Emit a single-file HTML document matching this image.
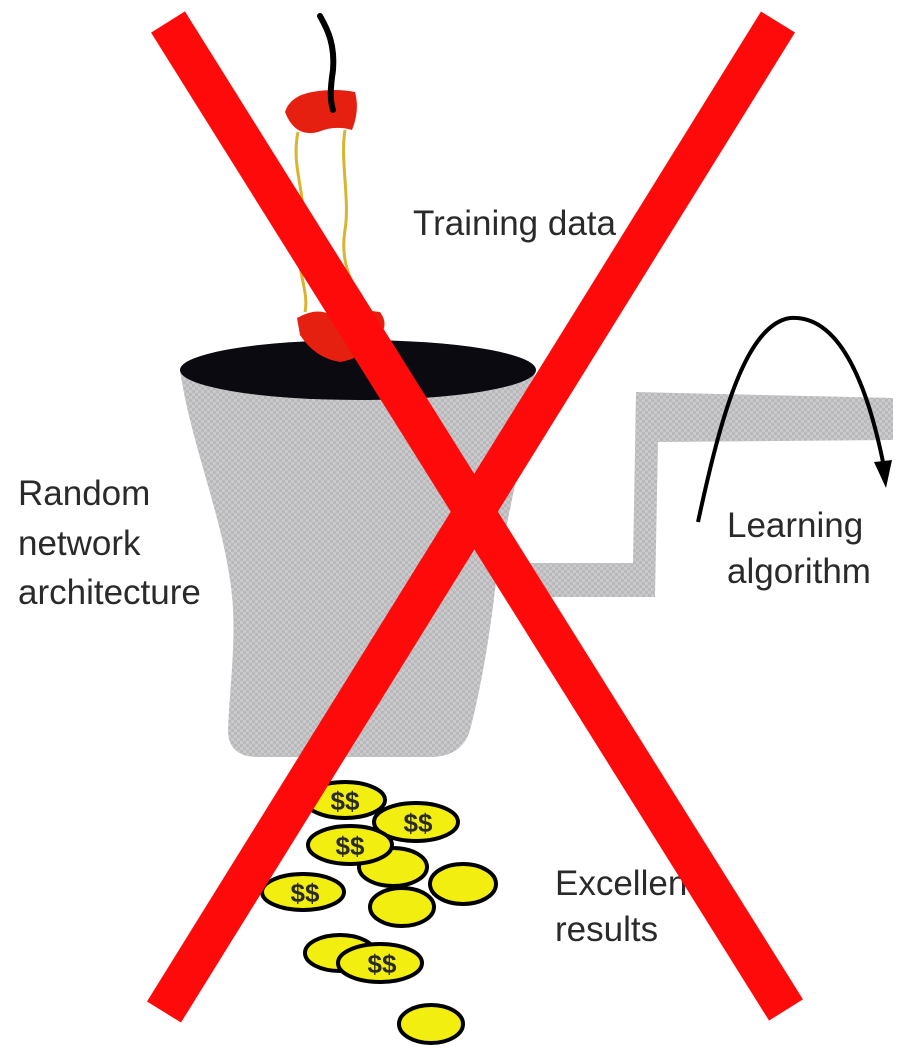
<!DOCTYPE html>
<html><head><meta charset="utf-8"><style>
html,body{margin:0;padding:0;background:#fff;}
svg{display:block;}
text{font-family:"Liberation Sans",sans-serif;fill:#2a2a2a;font-size:35px;}
</style></head><body>
<svg width="915" height="1055" viewBox="0 0 915 1055" xmlns="http://www.w3.org/2000/svg">
<defs>
<pattern id="dots" width="6" height="6" patternUnits="userSpaceOnUse">
<rect width="6" height="6" fill="#c9c9cb"/>
<rect width="3" height="3" fill="#b9b9bc"/>
<rect x="3" y="3" width="3" height="3" fill="#b9b9bc"/>
</pattern>
</defs>
<path d="M520,563 L633,563 L636,392 L893,398 L893,440 L658,442 L655,597 L520,597 Z" fill="url(#dots)"/>
<path d="M180,370 L535,370 C528,440 505,520 495,590 C488,650 478,700 470,730 Q462,757 430,757 L258,757 Q228,757 228,730 C230,680 238,630 230,580 C220,510 190,440 180,370 Z" fill="url(#dots)"/>
<ellipse cx="358" cy="370" rx="178" ry="30" fill="#0a0a10"/>
<path d="M298,132 C290,170 310,200 300,230 C292,260 310,290 305,312 M345,130 C340,160 350,200 345,230 C340,260 350,285 370,312" fill="none" stroke="#d7b530" stroke-width="3"/>
<path d="M285,112 Q290,96 312,92 Q335,88 355,92 Q360,110 352,130 Q335,125 318,132 Q295,138 285,112 Z" fill="#e62010"/>
<path d="M297,318 Q320,305 335,318 Q355,308 380,312 Q390,325 378,338 Q365,358 340,362 Q315,358 300,335 Z" fill="#e62010"/>
<path d="M320,16 C328,30 335,45 333,70 C330,90 330,100 333,110" fill="none" stroke="#000" stroke-width="6" stroke-linecap="round"/>
<path d="M698,522 C720,420 745,325 790,318 C830,315 862,360 883,462" fill="none" stroke="#000" stroke-width="4"/>
<path d="M874,462 L886,488 L892,460 Z" fill="#000"/>
<g fill="#f2ee10" stroke="#000" stroke-width="4">
<ellipse cx="345" cy="800" rx="40" ry="18"/>
<ellipse cx="416" cy="822" rx="42" ry="19"/>
<ellipse cx="393" cy="867" rx="34" ry="19"/>
<ellipse cx="350" cy="845" rx="42" ry="19"/>
<ellipse cx="463" cy="884" rx="33" ry="20"/>
<ellipse cx="303" cy="892" rx="41" ry="18"/>
<ellipse cx="402" cy="907" rx="32" ry="19"/>
<ellipse cx="340" cy="953" rx="35" ry="18"/>
<ellipse cx="380" cy="963" rx="42" ry="19"/>
<ellipse cx="431" cy="1024" rx="32" ry="19"/>
</g>
<g text-anchor="middle">
<text x="345" y="810" style="font-size:26px;font-weight:bold">$$</text>
<text x="418" y="832" style="font-size:26px;font-weight:bold">$$</text>
<text x="350" y="855" style="font-size:26px;font-weight:bold">$$</text>
<text x="305" y="902" style="font-size:26px;font-weight:bold">$$</text>
<text x="382" y="973" style="font-size:26px;font-weight:bold">$$</text>
</g>
<text x="413" y="235">Training data</text>
<text x="18" y="505">Random</text>
<text x="18" y="555">network</text>
<text x="18" y="604">architecture</text>
<text x="727" y="537">Learning</text>
<text x="727" y="583">algorithm</text>
<text x="555" y="895">Excellent</text>
<text x="555" y="941">results</text>
<g stroke="#ff0a0a" stroke-width="40" stroke-linecap="butt">
<line x1="168" y1="22" x2="786" y2="1010"/>
<line x1="778" y1="22" x2="164" y2="1012"/>
</g>
</svg>
</body></html>
